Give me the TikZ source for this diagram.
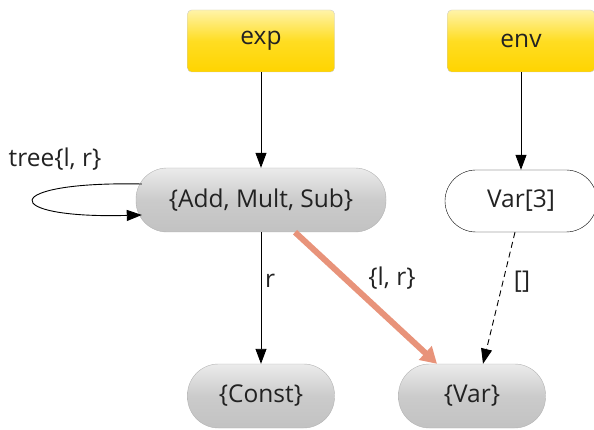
\documentclass[tikz,border=0pt]{standalone}
\usepackage{fontspec}
\setmainfont{Open Sans}
\usetikzlibrary{arrows.meta,calc}
\definecolor{goldtop}{HTML}{FFF3A8}
\definecolor{goldmid}{HTML}{FFDD22}
\definecolor{goldbot}{HTML}{FFD400}
\definecolor{pilltop}{HTML}{EBEBEB}
\definecolor{pillmid}{HTML}{CBCBCB}
\definecolor{pillbot}{HTML}{C2C2C2}
\definecolor{salmon}{HTML}{E8937A}
\definecolor{txt}{HTML}{222222}
\tikzset{
  base/.style={font=\fontsize{24.5}{27}\selectfont, text=txt, inner sep=0pt},
  ybox/.style={base, draw=gray!40, rounded corners=4pt, minimum width=147pt, minimum height=62pt,
     top color=goldtop, bottom color=goldbot, middle color=goldmid},
  pill/.style={base, draw=gray!60, rounded corners=31pt, minimum height=64pt,
     top color=pilltop, bottom color=pillbot, middle color=pillmid},
  wpill/.style={base, draw=black, fill=white, rounded corners=31pt, minimum height=62pt},
  arr/.style={draw=black, line width=0.9pt, -{Triangle[length=15pt,width=11pt]}},
  lbl/.style={base}
}
\begin{document}
\begin{tikzpicture}[x=1pt,y=-1pt]
\useasboundingbox (0,0) rectangle (594,430);
\node[ybox] (exp) at (261,41) {exp};
\node[ybox] (env) at (521,41) {env};
\node[pill, minimum width=250pt] (ams) at (261,200) {\{Add, Mult, Sub\}};
\node[wpill, minimum width=152pt] (var3) at (521,201) {Var[3]};
\node[pill, minimum width=147pt] (const) at (261,396) {\{Const\}};
\node[pill, minimum width=147pt] (var) at (472,396) {\{Var\}};
\coordinate (ls) at ($(ams.west)+(6,-16)$);
\coordinate (le) at ($(ams.west)+(6,15)$);
\draw[arr] (exp.south) -- (ams.north);
\draw[arr] (env.south) -- (var3.north);
\draw[arr] (ls) .. controls (-2,181) and (-2,219) .. (le);
\node[lbl] (tl) at (55,159) {tree\{l, r\}};
\draw[arr] (ams.south) -- (const.north);
\node[lbl, anchor=west] (rl) at (265,281) {r};
\coordinate (os) at ($(ams.south)+(34,0)$);
\coordinate (oe) at ($(var.north)+(-35,0)$);
\draw[salmon, line width=6pt, -{Triangle[length=16pt,width=18pt]}] (os) -- (oe);
\node[lbl] (lr) at (392,278) {\{l, r\}};
\coordinate (ds) at ($(var3.south)+(-6,0)$);
\coordinate (de) at ($(var.north)+(11,0)$);
\draw[arr, dashed, dash pattern=on 6pt off 4pt] (ds) -- (de);
\node[lbl] (bl) at (522,282) {[]};
\end{tikzpicture}
\end{document}
